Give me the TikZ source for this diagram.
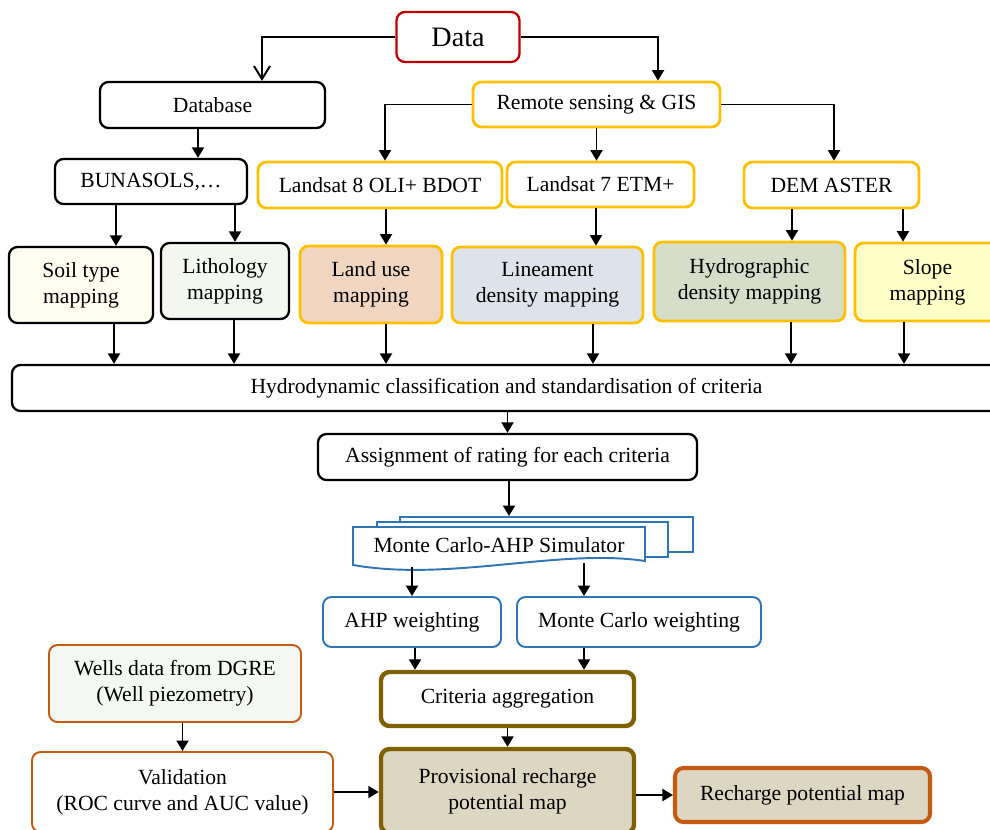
\documentclass[tikz,border=0pt]{standalone}
\usepackage{fontspec}
\setmainfont{Liberation Serif}
\usetikzlibrary{arrows.meta}
\definecolor{datared}{RGB}{192,0,0}
\definecolor{ygold}{RGB}{255,192,0}
\definecolor{sblue}{RGB}{46,117,182}
\definecolor{olivebrown}{RGB}{127,96,0}
\definecolor{borange}{RGB}{197,90,17}
\definecolor{soilfill}{RGB}{255,252,240}
\definecolor{lithofill}{RGB}{244,246,240}
\definecolor{landfill}{RGB}{240,213,192}
\definecolor{lineafill}{RGB}{222,226,234}
\definecolor{hydrofill}{RGB}{214,222,202}
\definecolor{slopefill}{RGB}{255,255,200}
\definecolor{tanfill}{RGB}{221,214,192}
\definecolor{wellsfill}{RGB}{245,247,242}
\tikzset{
  box/.style       = {shape=rectangle, rounded corners=1.7mm, draw, fill=white,
                      align=center, inner sep=0pt, line width=1.3pt,
                      font=\fontsize{12.3}{14.8}\selectfont},
  yellowbox/.style = {box, draw=ygold, line width=1.6pt},
  bluebox/.style   = {box, draw=sblue, line width=1.1pt},
  olivebox/.style  = {box, draw=olivebrown, line width=2.5pt},
  orangebox/.style = {box, draw=borange, line width=1.1pt},
  page/.style      = {shape=rectangle, draw=sblue, fill=white, line width=1.1pt},
  arr/.style       = {-{Triangle[length=2.1mm,width=2.4mm]}, line width=1.1pt},
  openarr/.style   = {-{Straight Barb[length=2.6mm,width=3.2mm]}, line width=1.1pt}
}

\begin{document}
\begin{tikzpicture}[x=0.2mm,y=-0.2mm]
 \useasboundingbox (0,0) rectangle (990,829);
 \clip (0,0) rectangle (990,829);

 \node [box, draw=datared, font=\fontsize{16}{19}\selectfont,
        minimum width=24.6mm, minimum height=10mm] (data) at (458,37) {Data};
 \node [box, minimum width=45mm, minimum height=9.2mm] (db) at (212.5,105) {Database};
 \node [yellowbox, minimum width=49.4mm, minimum height=9mm] (rs) at (596.5,104.5) {Remote sensing \& GIS};
 \node [box, minimum width=38.4mm, minimum height=9mm] (buna) at (151,181.5) {BUNASOLS,\ldots};
 \node [yellowbox, minimum width=48.8mm, minimum height=9.2mm] (ls8) at (380,185) {Landsat 8 OLI+ BDOT};
 \node [yellowbox, minimum width=37.4mm, minimum height=9mm] (ls7) at (600.5,184.5) {Landsat 7 ETM+};
 \node [yellowbox, minimum width=35mm, minimum height=9.2mm] (dem) at (831.5,185) {DEM ASTER};

 \node [box, fill=soilfill, minimum width=28.8mm, minimum height=15.2mm] (soil) at (81,285) {Soil type\\mapping};
 \node [box, fill=lithofill, minimum width=25.6mm, minimum height=15.2mm] (litho) at (225,281) {Lithology\\mapping};
 \node [yellowbox, fill=landfill, minimum width=28.4mm, minimum height=15.4mm] (landuse) at (371,284.5) {Land use\\mapping};
 \node [yellowbox, fill=lineafill, minimum width=38.2mm, minimum height=15.2mm] (linea) at (547.5,285) {Lineament\\density mapping};
 \node [yellowbox, fill=hydrofill, minimum width=38.2mm, minimum height=15.8mm] (hydro) at (749.5,281.5) {Hydrographic\\density mapping};
 \node [yellowbox, fill=slopefill, minimum width=29mm, minimum height=15.6mm] (slope) at (927.5,282) {Slope\\mapping};

 \node [box, minimum width=197.8mm, minimum height=9.2mm] (hydrodyn) at (506.5,388)
   {Hydrodynamic classification and standardisation of criteria};
 \node [box, minimum width=75.8mm, minimum height=9.2mm] (assign) at (507.5,457) {Assignment of rating for each criteria};

 \node [page, minimum width=58.6mm, minimum height=7mm] (simback) at (546.5,534.5) {};
 \node [page, minimum width=58.2mm, minimum height=7mm] (simmid) at (522.5,539.5) {};
 \draw [sblue, fill=white, line width=1.1pt] (353,527) -- (645,527) -- (645,561)
   .. controls (560,548) and (450,582) .. (353,565) -- cycle;
 \node [font=\fontsize{12.3}{14.8}\selectfont, minimum width=58.4mm, minimum height=7.2mm, inner sep=0pt]
   (sim) at (499,545) {Monte Carlo-AHP Simulator};

 \node [bluebox, minimum width=35.6mm, minimum height=10mm] (ahp) at (412,622) {AHP weighting};
 \node [bluebox, minimum width=48.8mm, minimum height=10mm] (mcw) at (639,622) {Monte Carlo weighting};
 \node [orangebox, fill=wellsfill, minimum width=50.4mm, minimum height=15.4mm] (wells) at (175,683.5)
   {Wells data from DGRE\\(Well piezometry)};
 \node [olivebox, minimum width=50.6mm, minimum height=10.8mm] (crit) at (507.5,699) {Criteria aggregation};
 \node [orangebox, minimum width=60.2mm, minimum height=16mm] (valid) at (182.5,792)
   {Validation\\(ROC curve and AUC value)};
 \node [olivebox, fill=tanfill, minimum width=50.6mm, minimum height=16.8mm] (prov) at (507.5,791)
   {Provisional recharge\\potential map};
 \node [box, draw=borange, line width=2.3pt, fill=tanfill, minimum width=51mm, minimum height=10.8mm]
   (rech) at (802.5,795) {Recharge potential map};

 \draw [openarr] (data.west) -| ([xshift=9.9mm]db.north);
 \draw [arr] (data.east) -| ([xshift=12.3mm]rs.north);
 \draw [arr] ([xshift=-2.9mm]db.south) -- ([xshift=-2.9mm]db.south |- buna.north);
 \draw [arr] (rs.west) -| ([xshift=1mm]ls8.north);
 \draw [arr] (rs.south) -- (rs.south |- ls7.north);
 \draw [arr] (rs.east) -| ([xshift=0.5mm]dem.north);
 \draw [arr] ([xshift=-7mm]buna.south) -- ([xshift=-7mm]buna.south |- soil.north);
 \draw [arr] ([xshift=16.8mm]buna.south) -- ([xshift=16.8mm]buna.south |- litho.north);
 \draw [arr] ([xshift=1.2mm]ls8.south) -- ([xshift=1.2mm]ls8.south |- landuse.north);
 \draw [arr] ([xshift=-0.9mm]ls7.south) -- ([xshift=-0.9mm]ls7.south |- linea.north);
 \draw [arr] ([xshift=-7.9mm]dem.south) -- ([xshift=-7.9mm]dem.south |- hydro.north);
 \draw [arr] ([xshift=14.3mm]dem.south) -- ([xshift=14.3mm]dem.south |- slope.north);
 \foreach \n/\s in {soil/6.6mm, litho/1.8mm, landuse/3mm, linea/9.1mm, hydro/8.3mm, slope/-4.7mm}
   \draw [arr] ([xshift=\s]\n.south) -- ([xshift=\s]\n.south |- hydrodyn.north);
 \draw [arr] (hydrodyn.south -| assign.north) -- (assign.north);
 \draw [arr] ([xshift=0.3mm]assign.south) -- ([xshift=0.3mm]assign.south |- simback.north);
 \draw [arr] ([yshift=-0.8mm]sim.south -| ahp.north) -- (ahp.north);
 \draw [arr] ([xshift=-11mm]mcw.north |- sim.south) -- ([xshift=-11mm]mcw.north);
 \draw [arr] ([xshift=0.6mm]ahp.south) -- ([xshift=0.6mm]ahp.south |- crit.north);
 \draw [arr] ([xshift=-11mm]mcw.south) -- ([xshift=-11mm]mcw.south |- crit.north);
 \draw [arr] (wells.south -| valid.north) -- (valid.north);
 \draw [arr] (crit) -- (prov);
 \draw [arr] (valid.east) -- (valid.east -| prov.west);
 \draw [arr] (prov.east |- rech.west) -- (rech.west);
\end{tikzpicture}
\end{document}
